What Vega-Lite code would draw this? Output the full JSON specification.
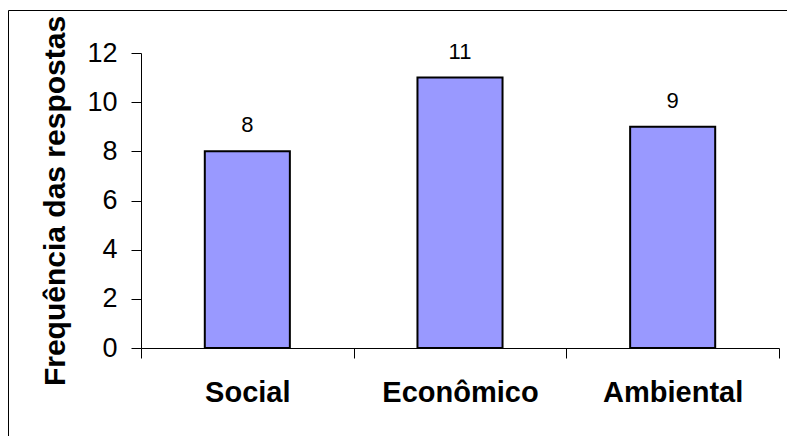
{
  "$schema": "https://vega.github.io/schema/vega-lite/v6.json",
  "autosize": "none",
  "padding": {"left": 8, "top": 10, "right": 0, "bottom": 0},
  "width": 785,
  "height": 430,
  "background": "white",
  "config": {
    "view": {"stroke": "#000000", "strokeWidth": 1},
    "font": "Liberation Sans"
  },
  "data": {
    "values": [
      {"categoria": "Social", "frequencia": 8},
      {"categoria": "Econômico", "frequencia": 11},
      {"categoria": "Ambiental", "frequencia": 9}
    ]
  },
  "encoding": {
    "x": {
      "field": "categoria",
      "type": "nominal",
      "sort": null,
      "scale": {"range": [133, 771], "paddingInner": 0, "paddingOuter": 0},
      "axis": {
        "title": null,
        "orient": "bottom",
        "offset": -92,
        "tickBand": "extent",
        "tickSize": 10,
        "tickColor": "#000000",
        "domainColor": "#000000",
        "labelAngle": 0,
        "labelFont": "Liberation Sans",
        "labelFontSize": 29,
        "labelFontWeight": "bold",
        "labelColor": "#000000",
        "labelPadding": 20,
        "grid": false
      }
    },
    "y": {
      "field": "frequencia",
      "type": "quantitative",
      "scale": {"domain": [0, 12], "range": [338, 43], "nice": false, "zero": true},
      "axis": {
        "title": "Frequência das respostas",
        "orient": "left",
        "offset": -133,
        "values": [0, 2, 4, 6, 8, 10, 12],
        "tickSize": 10,
        "tickColor": "#000000",
        "domainColor": "#000000",
        "labelFont": "Liberation Sans",
        "labelFontSize": 27,
        "labelColor": "#000000",
        "labelPadding": 14,
        "titleFont": "Liberation Sans",
        "titleFontSize": 30,
        "titleFontWeight": "bold",
        "titleColor": "#000000",
        "titlePadding": 16,
        "grid": false
      }
    }
  },
  "layer": [
    {
      "mark": {"type": "bar", "width": {"band": 0.4}, "fill": "#9999FF", "stroke": "#000000", "strokeWidth": 2}
    },
    {
      "mark": {"type": "text", "baseline": "alphabetic", "dy": -19, "fontSize": 22, "font": "Liberation Sans", "color": "#000000"},
      "encoding": {"text": {"field": "frequencia", "type": "quantitative"}}
    }
  ]
}
